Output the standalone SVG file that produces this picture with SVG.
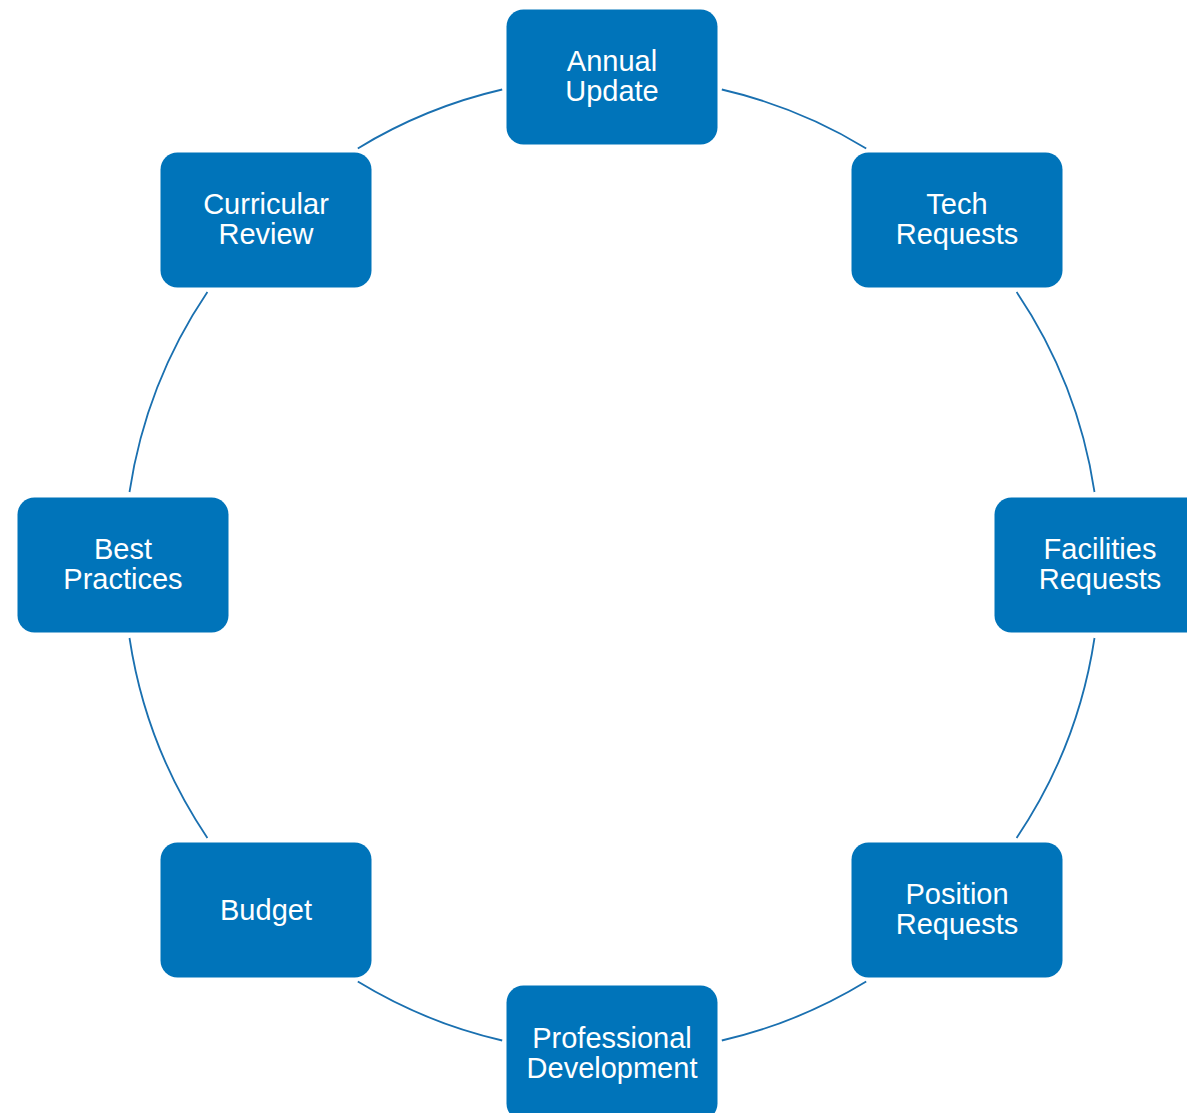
<svg xmlns="http://www.w3.org/2000/svg" width="1187" height="1113" viewBox="0 0 1187 1113">
<style>
.box{fill:#0074BA;}
.lbl{fill:#ffffff;font-family:"Liberation Sans",Arial,sans-serif;font-size:29px;text-anchor:middle;}
.arc{fill:none;stroke:#1A70B0;stroke-width:1.8;}
</style>
<rect width="1187" height="1113" fill="#ffffff"/>
<g id="connectors">
<path class="arc" d="M721.8,89.5 A488,488 0 0 1 866.2,148.4"/>
<path class="arc" d="M1016.6,292.1 A488,488 0 0 1 1094.5,492"/>
<path class="arc" d="M1094.5,638 A488,488 0 0 1 1016.6,837.9"/>
<path class="arc" d="M866.2,981.6 A488,488 0 0 1 721.8,1040.5"/>
<path class="arc" d="M502.2,1040.5 A488,488 0 0 1 357.8,981.6"/>
<path class="arc" d="M207.4,837.9 A488,488 0 0 1 129.5,638"/>
<path class="arc" d="M129.5,492 A488,488 0 0 1 207.4,292.1"/>
<path class="arc" d="M357.8,148.4 A488,488 0 0 1 502.2,89.5"/>
</g>
<g id="annual-update"><rect class="box" x="506.5" y="9.5" width="211" height="135" rx="17"/><text class="lbl" x="612" y="71">Annual</text><text class="lbl" x="612" y="101">Update</text></g>
<g id="tech-requests"><rect class="box" x="851.5" y="152.5" width="211" height="135" rx="17"/><text class="lbl" x="957" y="214">Tech</text><text class="lbl" x="957" y="244">Requests</text></g>
<g id="facilities-requests"><rect class="box" x="994.5" y="497.5" width="211" height="135" rx="17"/><text class="lbl" x="1100" y="559">Facilities</text><text class="lbl" x="1100" y="589">Requests</text></g>
<g id="position-requests"><rect class="box" x="851.5" y="842.5" width="211" height="135" rx="17"/><text class="lbl" x="957" y="904">Position</text><text class="lbl" x="957" y="934">Requests</text></g>
<g id="professional-development"><rect class="box" x="506.5" y="985.5" width="211" height="135" rx="17"/><text class="lbl" x="612" y="1048">Professional</text><text class="lbl" x="612" y="1078">Development</text></g>
<g id="budget"><rect class="box" x="160.5" y="842.5" width="211" height="135" rx="17"/><text class="lbl" x="266" y="920">Budget</text></g>
<g id="best-practices"><rect class="box" x="17.5" y="497.5" width="211" height="135" rx="17"/><text class="lbl" x="123" y="559">Best</text><text class="lbl" x="123" y="589">Practices</text></g>
<g id="curricular-review"><rect class="box" x="160.5" y="152.5" width="211" height="135" rx="17"/><text class="lbl" x="266" y="214">Curricular</text><text class="lbl" x="266" y="244">Review</text></g>
</svg>
